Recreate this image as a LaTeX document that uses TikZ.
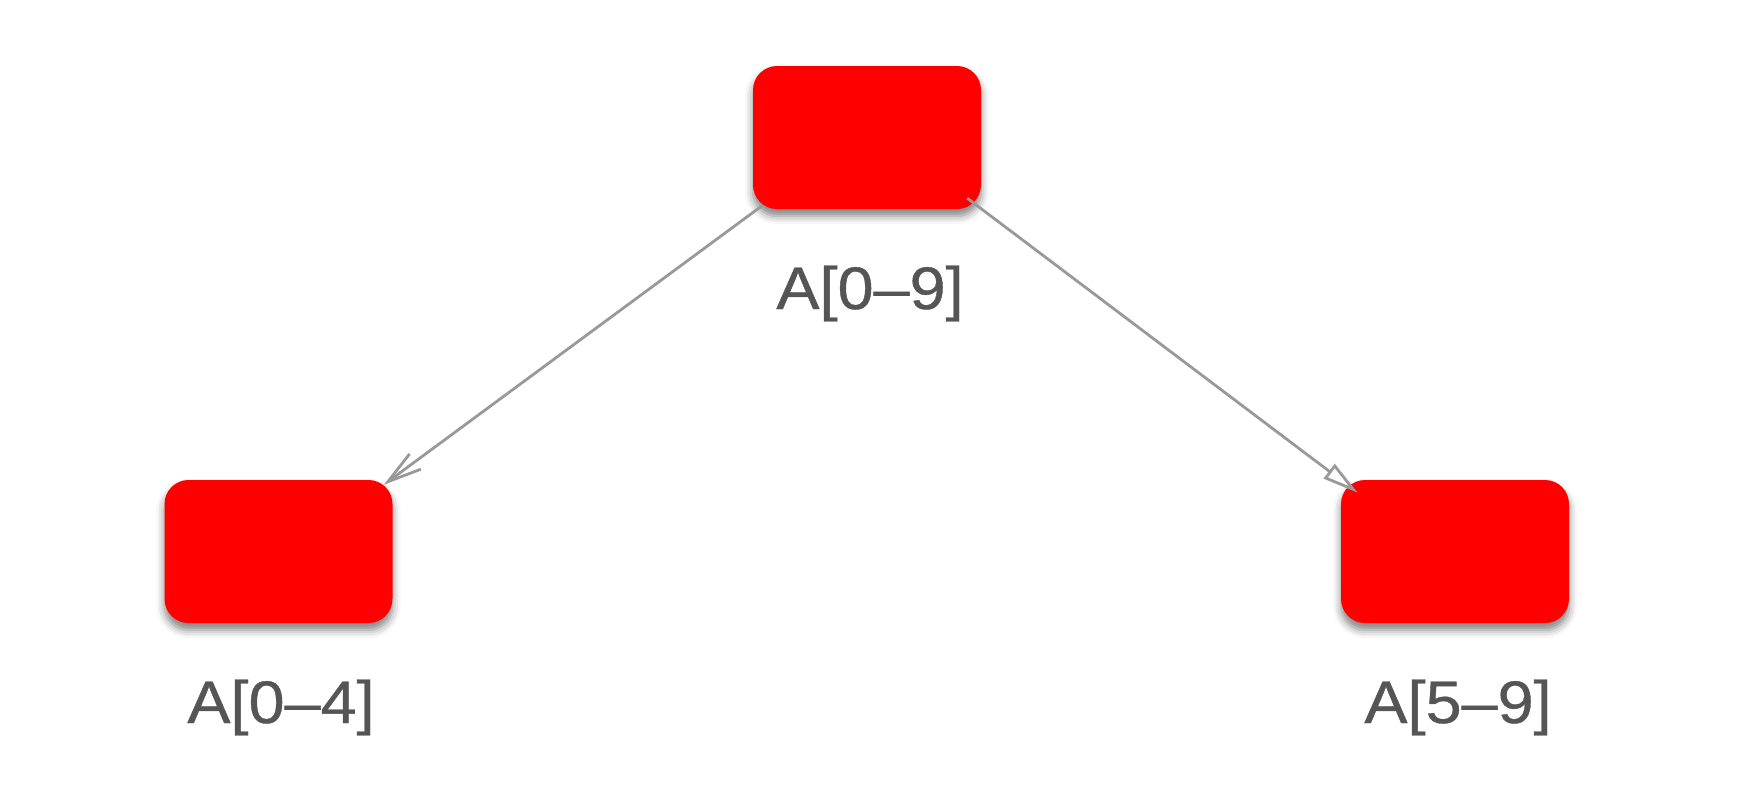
\documentclass[tikz,border=0pt]{standalone}
\usepackage{fontspec}
\setmainfont{Liberation Sans}
\newfontfamily\lblfont{Liberation Sans}[FakeBold=0.6]
\usetikzlibrary{arrows.meta,shadows.blur,calc}
\definecolor{boxred}{HTML}{FF0000}
\definecolor{edgegray}{HTML}{999999}
\definecolor{labelgray}{HTML}{555555}
\tikzset{
  redbox/.style={fill=boxred, draw=none, rounded corners=24pt, minimum width=228pt, minimum height=143pt, inner sep=0pt,
    blur shadow={shadow xshift=0pt, shadow yshift=-7pt, shadow blur radius=8pt, shadow opacity=50}},
  lbl/.style={anchor=base, text=labelgray, font=\lblfont\fontsize{60}{72}\selectfont, inner sep=0pt},
  edge/.style={draw=edgegray, line width=2.8pt}
}
\newcommand{\wlbl}[1]{\scalebox{1.08}[1]{#1}}
\begin{document}
\begin{tikzpicture}[x=1pt,y=-1pt]
\useasboundingbox (0,0) rectangle (1755,804);
\node[redbox] (top) at (867,137.5) {};
\node[redbox] (left) at (278.5,551.5) {};
\node[redbox] (right) at (1455,551.5) {};
\node[lbl] (ltop) at (870,309) {\wlbl{A[0–9]}};
\node[lbl] (lleft) at (281,723) {\wlbl{A[0–4]}};
\node[lbl] (lright) at (1458,723) {\wlbl{A[5–9]}};
\coordinate (s1) at ($(top.south west)+(10,-4)$);
\coordinate (e1) at ($(left.north east)+(-9,5)$);
\coordinate (s2) at ($(top.south east)+(-14,-11)$);
\coordinate (e2) at ($(right.north west)+(17,13)$);
\draw[edge, -{Straight Barb[length=34pt,width=19pt,line width=2.8pt]}] (s1) -- (e1);
\draw[edge, -{Triangle[open,length=36pt,width=18pt,line width=2.8pt]}] (s2) -- (e2);
\end{tikzpicture}
\end{document}
